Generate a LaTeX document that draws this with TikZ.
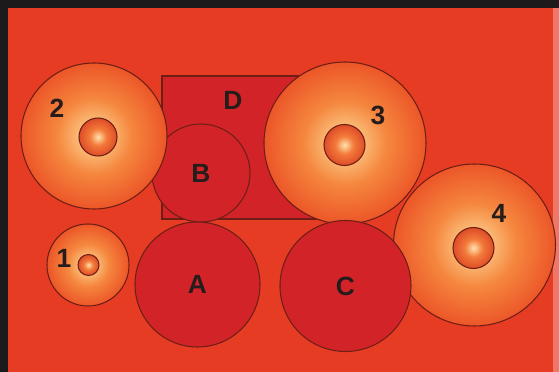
\documentclass[tikz,border=0pt]{standalone}
\usepackage{fontspec}
\setmainfont{Liberation Sans}
\usepackage{tikz}
\usetikzlibrary{positioning}
\definecolor{frame}{RGB}{28,26,26}
\definecolor{ground}{RGB}{231,60,36}
\definecolor{deep}{RGB}{210,36,40}
\definecolor{ink}{RGB}{38,28,28}
\definecolor{rim}{RGB}{110,30,20}
\definecolor{glowcore}{RGB}{251,196,128}
\definecolor{glowmid}{RGB}{245,134,62}
\definecolor{glowedge}{RGB}{236,86,40}
\definecolor{pearlcore}{RGB}{255,226,172}
\definecolor{pearlmid}{RGB}{243,122,58}
\definecolor{pearledge}{RGB}{222,76,40}
\pgfdeclareradialshading{glow}{\pgfpoint{0bp}{0bp}}{color(0bp)=(glowcore); color(4bp)=(glowcore); color(13bp)=(glowmid); color(25bp)=(glowedge); color(50bp)=(glowedge)}
\pgfdeclareradialshading{pearl}{\pgfpoint{0bp}{0bp}}{color(0bp)=(pearlcore); color(11bp)=(pearlmid); color(25bp)=(pearledge); color(50bp)=(pearledge)}

\begin{document}
\begin{tikzpicture}[x=0.02cm,y=-0.02cm,
  halo/.style={circle,draw=rim,line width=0.6pt,inner sep=0pt,
               shading=glow,minimum size=#1*0.02cm},
  core/.style={circle,draw=rim,line width=0.6pt,inner sep=0pt,
               shading=pearl,minimum size=#1*0.02cm},
  zone/.style={circle,draw=rim,line width=0.6pt,fill=deep,inner sep=0pt,
               minimum size=#1*0.02cm,font=\fontsize{15}{18}\selectfont\bfseries,
               text=ink},
  tag/.style={font=\fontsize{15}{18}\selectfont\bfseries,text=ink,inner sep=0pt}
]
  \fill[frame] (0,0) rectangle (559,372);
  \fill[ground] (8,8) rectangle (559,372);
  \fill[ground!70!white] (553,8) rectangle (559,372);
  \useasboundingbox (0,0) rectangle (559,372);

  \node[draw=rim,line width=0.6pt,fill=deep,inner sep=0pt,
        minimum width=158*0.02cm,minimum height=143*0.02cm] (D) at (241,147.5) {};
  \node[tag] (dtag) at (233,100) {D};
  \node[zone=98] (B) at (201,173) {B};
  \node[zone=125] (A) at (197.5,284.5) {A};

  \node[halo=146] (two) at (94,136) {};
  \node[core=38] (twoc) at (98,137) {};
  \node[tag] (twot) at (57,108) {2};

  \node[halo=82] (one) at (88,265) {};
  \node[core=21] (onec) at (88.5,265) {};
  \node[tag] (onet) at (64,258) {1};

  \node[halo=162] (three) at (345,143) {};
  \node[core=41] (threec) at (344.5,145) {};
  \node[tag] (threet) at (378,115) {3};

  \node[halo=162] (four) at (474.5,245) {};
  \node[core=41] (fourc) at (473.5,248) {};
  \node[tag] (fourt) at (499,213) {4};

  \node[zone=131] (C) at (345.5,286) {C};
\end{tikzpicture}
\end{document}
